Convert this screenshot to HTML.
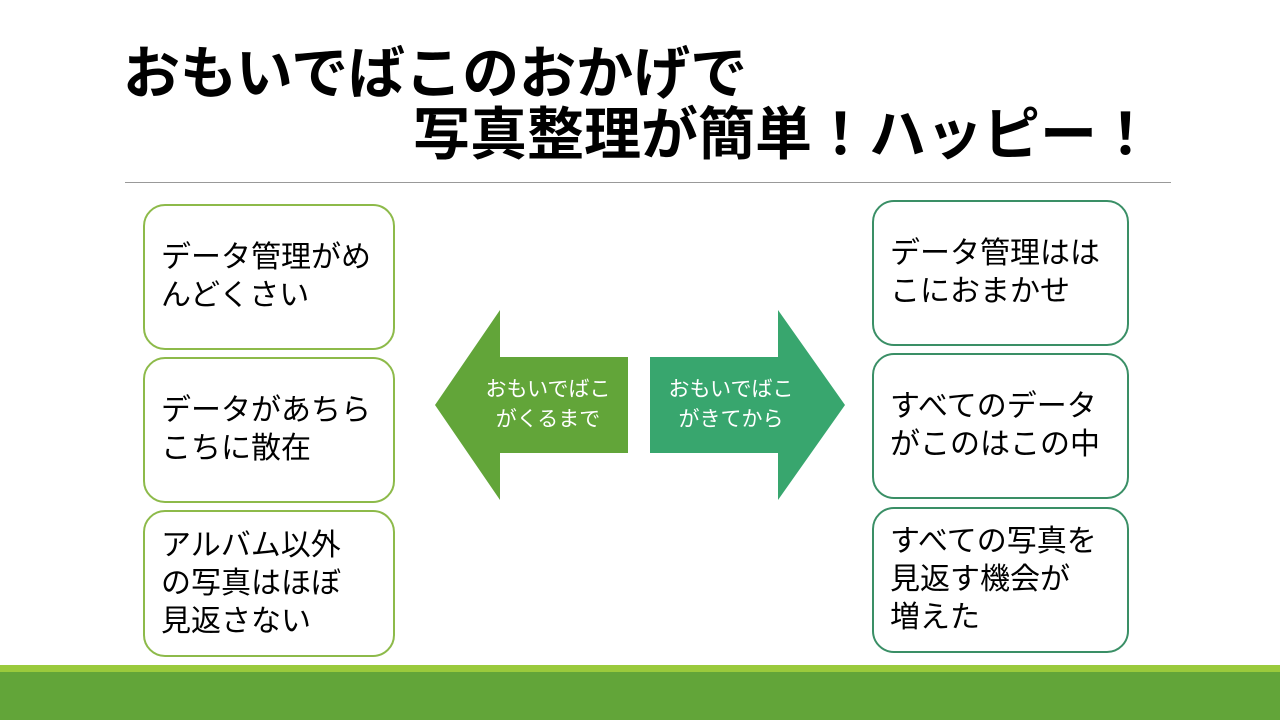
<!DOCTYPE html>
<html><head><meta charset="utf-8"><style>
body{margin:0;width:1280px;height:720px;position:relative;background:#fff;overflow:hidden;font-family:"Liberation Sans","Noto Sans CJK JP",sans-serif;}
.t{position:absolute;font-weight:bold;font-size:57px;line-height:60px;color:#000;white-space:nowrap}
.box{position:absolute;box-sizing:border-box;border:2px solid #8DBA4A;border-radius:22px;background:#fff;font-size:30px;line-height:38px;padding:0 0 0 16px;display:flex;align-items:center;color:#000;white-space:nowrap}
.r{border-color:#3A8F66}
</style></head><body>
<div class="t" style="left:123px;top:44px">おもいでばこのおかげで</div>
<div class="t" style="left:413px;top:105px">写真整理が簡単！ハッピー！</div>
<div style="position:absolute;left:125px;top:182px;width:1046px;height:1px;background:#999"></div>

<div class="box" style="left:143px;top:204px;width:252px;height:146px">データ管理がめ<br>んどくさい</div>
<div class="box" style="left:143px;top:357px;width:252px;height:146px">データがあちら<br>こちに散在</div>
<div class="box" style="left:143px;top:510px;width:252px;height:147px">アルバム以外<br>の写真はほぼ<br>見返さない</div>

<div class="box r" style="left:872px;top:200px;width:257px;height:146px">データ管理はは<br>こにおまかせ</div>
<div class="box r" style="left:872px;top:353px;width:257px;height:146px">すべてのデータ<br>がこのはこの中</div>
<div class="box r" style="left:872px;top:507px;width:257px;height:146px">すべての写真を<br>見返す機会が<br>増えた</div>

<svg style="position:absolute;left:0;top:0" width="1280" height="720">
<polygon points="435,405 500,310 500,357 628,357 628,453 500,453 500,500" fill="#62A539"/>
<polygon points="845,405 778,310 778,357 650,357 650,453 778,453 778,500" fill="#38A66E"/>
<g font-family="Liberation Sans,Noto Sans CJK JP,sans-serif" font-size="21" fill="#fff" text-anchor="middle">
<text x="548" y="396">おもいでばこ</text><text x="548" y="426">がくるまで</text>
<text x="731" y="396">おもいでばこ</text><text x="731" y="426">がきてから</text>
</g>
<rect x="0" y="665" width="1280" height="7" fill="#9ACA3C"/>
<rect x="0" y="672" width="1280" height="48" fill="#62A539"/>
</svg>
</body></html>
